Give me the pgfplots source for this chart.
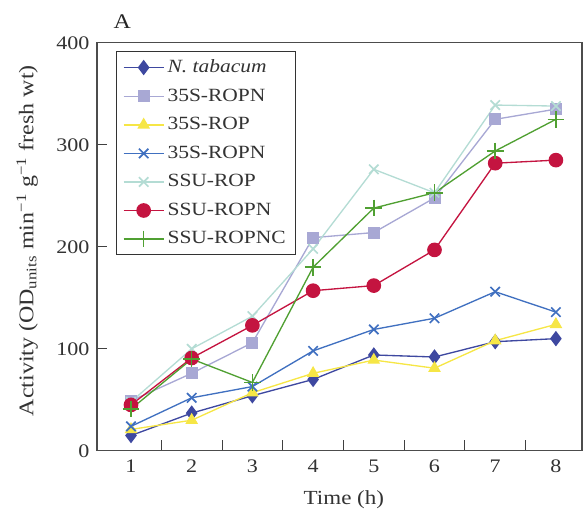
\documentclass[border=0pt]{standalone}
\usepackage{fontspec}
\setmainfont[FakeStretch=1.15]{Liberation Serif}
\usepackage{pgfplots}
\pgfplotsset{compat=1.18}

\definecolor{ntab}{RGB}{62,72,160}
\definecolor{sropn}{RGB}{168,168,212}
\definecolor{srop}{RGB}{246,230,70}
\definecolor{sropnb}{RGB}{64,112,192}
\definecolor{urop}{RGB}{180,220,212}
\definecolor{uropn}{RGB}{196,20,64}
\definecolor{uropnc}{RGB}{80,160,50}

\begin{document}
\begin{tikzpicture}
\begin{axis}[
  scale only axis,
  width=291pt, height=244.8pt,
  xmin=0.44, xmax=8.43,
  ymin=0, ymax=400,
  xtick={1,2,3,4,5,6,7,8},
  minor xtick={1.5,2.5,3.5,4.5,5.5,6.5,7.5},
  ytick={0,100,200,300,400},
  xtick pos=bottom, ytick pos=left,
  tick align=inside,
  major tick length=6pt,
  minor tick length=6.5pt,
  major x tick style={draw=none},
  tick style={black!75, line width=0.6pt},
  axis line style={black!70, line width=0.7pt},
  /pgf/number format/assume math mode=true,
  tick label style={font=\fontsize{11.5}{13}\selectfont, text=black!80},
  xticklabel style={yshift=-2pt},
  yticklabel style={xshift=-1pt},
  xlabel={Time (h)},
  ylabel={Activity (OD\textsubscript{units} min\textsuperscript{−1} g\textsuperscript{−1} fresh wt)},
  label style={font=\fontsize{12}{14}\selectfont, text=black!80},
  xlabel style={at={(axis description cs:0.509,-0.12)}, anchor=center},
  ylabel style={at={(axis description cs:-0.144,0.515)}, anchor=center,
    font=\fontsize{12.5}{14}\selectfont},
  legend style={at={(axis description cs:0.039,0.98)}, anchor=north west,
    draw=black!80, line width=0.6pt, font=\fontsize{11.2}{13}\selectfont,
    text=black!80, row sep=4.2pt, inner xsep=4pt, inner ysep=3pt},
  legend cell align=left,
  legend image code/.code={
    \draw[mark repeat=2, mark phase=2, #1] plot coordinates {(0cm,0cm) (0.42cm,0cm) (0.84cm,0cm)};
  },
  every axis plot/.append style={line width=0.8pt},
]
\addplot[color=ntab, mark=diamond*, mark size=4pt, mark options={fill=ntab}]
  coordinates {(1,15) (2,37) (3,54) (4,70) (5,94) (6,92) (7,107) (8,110)};
\addlegendentry{\textit{N. tabacum}}
\addplot[color=sropn, mark=square*, mark size=3.2pt, mark options={fill=sropn}]
  coordinates {(1,49) (2,76) (3,106) (4,209) (5,214) (6,248) (7,325) (8,335)};
\addlegendentry{35S-ROPN}
\addplot[color=srop, mark=triangle*, mark size=3.6pt, mark options={fill=srop}]
  coordinates {(1,21) (2,30) (3,57) (4,76) (5,89) (6,81) (7,108) (8,124)};
\addlegendentry{35S-ROP}
\addplot[color=sropnb, mark=x, mark size=4pt, mark options={line width=1pt}]
  coordinates {(1,24) (2,52) (3,63) (4,98) (5,119) (6,130) (7,156) (8,136)};
\addlegendentry{35S-ROPN}
\addplot[color=urop, mark=x, mark size=4pt, mark options={line width=1pt}]
  coordinates {(1,48) (2,100) (3,132) (4,198) (5,276) (6,253) (7,339) (8,338)};
\addlegendentry{SSU-ROP}
\addplot[color=uropn, mark=*, mark size=4pt, mark options={fill=uropn}]
  coordinates {(1,45) (2,91) (3,123) (4,157) (5,162) (6,197) (7,282) (8,285)};
\addlegendentry{SSU-ROPN}
\addplot[color=uropnc, mark=+, mark size=5pt, mark options={line width=0.9pt}]
  coordinates {(1,41) (2,90) (3,67) (4,180) (5,238) (6,253) (7,294) (8,325)};
\addlegendentry{SSU-ROPNC}
\coordinate (Apos) at (rel axis cs:0.052,1.051);
\coordinate (bbll) at (rel axis cs:-0.2,-0.152);
\coordinate (bbur) at (rel axis cs:1.0041,1.105);
\end{axis}
\node[font=\fontsize{12.5}{14}\selectfont, text=black!85] at (Apos) {A};
\pgfresetboundingbox
\path (bbll) rectangle (bbur);
\end{tikzpicture}
\end{document}
